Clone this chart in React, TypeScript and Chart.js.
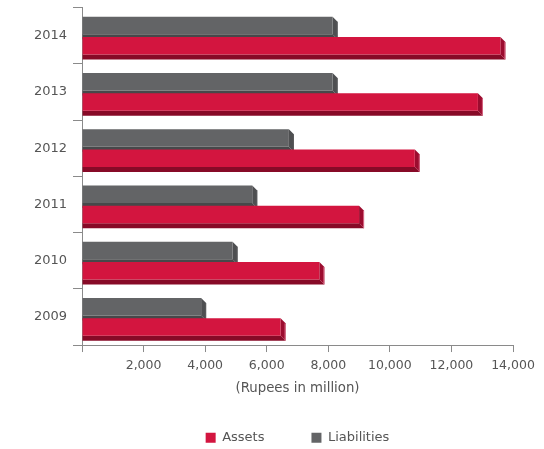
import React, { useEffect, useRef } from "react";
import { Chart, registerables } from "chart.js";

Chart.register(...registerables);

const categories = ["2014", "2013", "2012", "2011", "2010", "2009"];
const assets = [13590, 12860, 10810, 9000, 7710, 6450];
const liabilities = [8140, 8140, 6720, 5530, 4890, 3870];
const xMin = 0;
const xMax = 14000;
const xStep = 2000;
const axisTitle = "(Rupees in million)";

const FONT = "'DejaVu Sans', Verdana, sans-serif";
const DEPTH = 5;

const bar3d = {
  id: "bar3d",
  beforeDatasetsDraw(chart: any) {
    const ctx = chart.ctx;
    chart.data.datasets.forEach((ds: any, i: number) => {
      const meta = chart.getDatasetMeta(i);
      if (meta.hidden) return;
      meta.data.forEach((el: any) => {
        const { x, y, base, height } = el.getProps(["x", "y", "base", "height"], true);
        const top = y - height / 2;
        const bottom = y + height / 2;
        const d = DEPTH;
        ctx.save();
        // bottom face
        ctx.fillStyle = ds.bottomFaceColor;
        ctx.beginPath();
        ctx.moveTo(base, bottom);
        ctx.lineTo(x, bottom);
        ctx.lineTo(x + d, bottom + d);
        ctx.lineTo(base, bottom + d);
        ctx.closePath();
        ctx.fill();
        // right face
        ctx.fillStyle = ds.sideFaceColor;
        ctx.beginPath();
        ctx.moveTo(x, top);
        ctx.lineTo(x + d, top + d);
        ctx.lineTo(x + d, bottom + d);
        ctx.lineTo(x, bottom);
        ctx.closePath();
        ctx.fill();
        // edge highlight
        ctx.strokeStyle = ds.edgeColor;
        ctx.lineWidth = 1;
        ctx.beginPath();
        ctx.moveTo(x + d - 0.5, top + d);
        ctx.lineTo(x + d - 0.5, bottom + d);
        ctx.stroke();
        ctx.restore();
      });
    });
  },
};

export default function App() {
  const ref = useRef<HTMLCanvasElement | null>(null);

  useEffect(() => {
    if (!ref.current) return;
    Chart.defaults.font.family = FONT;
    const chart = new Chart(ref.current, {
      type: "bar",
      data: {
        labels: categories,
        datasets: [
          {
            label: "Liabilities",
            data: liabilities,
            backgroundColor: "#636466",
            bottomFaceColor: "#47484a",
            sideFaceColor: "#4e4f51",
            edgeColor: "#5a5b5d",
            categoryPercentage: 0.72,
            barPercentage: 0.86,
          } as any,
          {
            label: "Assets",
            data: assets,
            backgroundColor: "#D3153F",
            bottomFaceColor: "#870A27",
            sideFaceColor: "#9C0C2F",
            edgeColor: "#D86A86",
            categoryPercentage: 0.72,
            barPercentage: 0.86,
          } as any,
        ],
      },
      options: {
        indexAxis: "y",
        animation: false,
        responsive: true,
        maintainAspectRatio: false,
        layout: { padding: { top: 7.5, right: 31, bottom: -5.2, left: 0 } },
        scales: {
          x: {
            type: "linear",
            min: xMin,
            max: xMax,
            afterFit(scale: any) {
              scale.paddingLeft = 0;
              scale.paddingRight = 0;
            },
            ticks: {
              stepSize: xStep,
              color: "#555555",
              font: { size: 12.5 },
              padding: 6,
              maxRotation: 0,
              callback: (v: any) => (Number(v) === 0 ? "" : Number(v).toLocaleString("en-US")),
            },
            grid: {
              drawOnChartArea: false,
              drawTicks: true,
              tickLength: 7,
              color: "#8a8a8a",
            },
            border: { display: true, color: "#8a8a8a" },
            title: {
              display: true,
              text: axisTitle,
              color: "#555555",
              font: { size: 13.3 },
              padding: { top: 1.8, bottom: -12.6 },
            },
          },
          y: {
            type: "category",
            afterFit(scale: any) {
              scale.width = 82;
              scale.paddingTop = 0;
              scale.paddingBottom = 0;
            },
            ticks: {
              color: "#555555",
              font: { size: 13 },
              padding: 6,
            },
            grid: {
              offset: true,
              drawOnChartArea: false,
              drawTicks: true,
              tickLength: 9,
              color: "#8a8a8a",
            },
            border: { display: true, color: "#8a8a8a" },
          },
        },
        plugins: {
          tooltip: { enabled: false },
          legend: {
            position: "bottom",
            fullSize: false,
            reverse: true,
            labels: {
              boxWidth: 10,
              boxHeight: 10,
              padding: 47,
              color: "#555555",
              font: { size: 13 },
              generateLabels: (c: any) =>
                Chart.defaults.plugins.legend.labels
                  .generateLabels(c)
                  .map((l: any) => ({ ...l, lineWidth: 0, strokeStyle: l.fillStyle })),
            },
          },
        },
      } as any,
      plugins: [bar3d],
    });
    return () => chart.destroy();
  }, []);

  return (
    <div style={{ position: "fixed", left: 0, top: 0, width: 544, height: 449 }}>
      <canvas ref={ref} />
    </div>
  );
}
